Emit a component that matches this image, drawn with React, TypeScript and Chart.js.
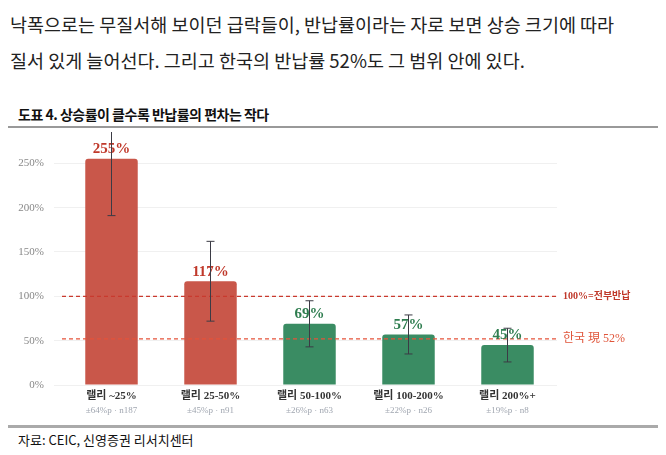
import React, { useEffect, useRef } from "react";
import { Chart, registerables } from "chart.js";
Chart.register(...registerables);

const categories = ["랠리 ~25%", "랠리 25-50%", "랠리 50-100%", "랠리 100-200%", "랠리 200%+"];
const values = [255, 117, 69, 57, 45];
const errors = [64, 45, 26, 22, 19];
const counts = [187, 91, 63, 26, 8];
const yTicks = [0, 50, 100, 150, 200, 250];
const refLines = [100, 52];

const RED = "#c9574a", GREEN = "#3a8c63";
const isRed = (v: number) => v >= 100;

export default function App() {
  const ref = useRef<HTMLCanvasElement>(null);
  useEffect(() => {
    const overlay = {
      id: "overlay",
      afterDatasetsDraw(chart: any) {
        const { ctx, chartArea, scales } = chart;
        const x = scales.x, y = scales.y;
        ctx.save();
        ctx.setLineDash([4, 3]);
        ctx.lineWidth = 1.3;
        ctx.strokeStyle = "#c93a2e";
        ctx.beginPath(); ctx.moveTo(chartArea.left, y.getPixelForValue(refLines[0])); ctx.lineTo(chartArea.right, y.getPixelForValue(refLines[0])); ctx.stroke();
        ctx.strokeStyle = "#e5533a";
        ctx.beginPath(); ctx.moveTo(chartArea.left, y.getPixelForValue(refLines[1])); ctx.lineTo(chartArea.right, y.getPixelForValue(refLines[1])); ctx.stroke();
        ctx.setLineDash([]);
        ctx.textBaseline = "middle"; ctx.textAlign = "left";
        ctx.fillStyle = "#c0392b";
        ctx.font = "bold 10px 'Liberation Serif', 'Noto Sans CJK KR'";
        ctx.fillText("100%=전부반납", chartArea.right + 6, y.getPixelForValue(refLines[0]));
        ctx.fillStyle = "#e0553a";
        ctx.font = "12px 'Liberation Serif', 'Noto Sans CJK KR'";
        ctx.fillText("한국 現 52%", chartArea.right + 6, y.getPixelForValue(refLines[1]));
        values.forEach((v, i) => {
          const cx = x.getPixelForValue(i);
          ctx.fillStyle = isRed(v) ? "#c0392b" : "#2e7d4f";
          ctx.font = "bold 15px 'Liberation Serif'";
          ctx.textAlign = "center"; ctx.textBaseline = "bottom";
          ctx.fillText(v + "%", cx, y.getPixelForValue(v) - 2);
          const topRaw = y.getPixelForValue(v + errors[i]);
          const top = Math.max(topRaw, chartArea.top - 18);
          const bot = y.getPixelForValue(v - errors[i]);
          ctx.strokeStyle = "#3b3b45"; ctx.lineWidth = 1;
          ctx.beginPath();
          ctx.moveTo(cx, top); ctx.lineTo(cx, bot);
          ctx.moveTo(cx - 4, bot); ctx.lineTo(cx + 4, bot);
          if (topRaw >= chartArea.top - 18) { ctx.moveTo(cx - 4, top); ctx.lineTo(cx + 4, top); }
          ctx.stroke();
          ctx.textBaseline = "top";
          ctx.fillStyle = "#333";
          ctx.font = "bold 11px 'Liberation Serif', 'Noto Sans CJK KR'";
          ctx.fillText(categories[i], cx, chartArea.bottom + 6);
          ctx.fillStyle = "#a0a6b0";
          ctx.font = "9px 'Liberation Serif'";
          ctx.fillText(`±${errors[i]}%p · n${counts[i]}`, cx, chartArea.bottom + 21);
        });
        ctx.restore();
      },
    };
    const chart = new Chart(ref.current!, {
      type: "bar",
      data: {
        labels: categories,
        datasets: [{
          data: values,
          backgroundColor: values.map((v) => (isRed(v) ? RED : GREEN)),
          borderRadius: 3,
          barPercentage: 0.53,
          categoryPercentage: 1,
        }],
      },
      options: {
        animation: false,
        responsive: false,
        layout: { padding: { left: 0, right: 109, top: 20, bottom: 40 } },
        plugins: { legend: { display: false }, tooltip: { enabled: false } },
        scales: {
          x: {
            ticks: { display: false }, grid: { display: false }, border: { display: false },
            afterFit: (s: any) => { s.height = 0; },
          },
          y: {
            min: 0, max: 265,
            afterBuildTicks: (s: any) => { s.ticks = yTicks.map((v) => ({ value: v })); },
            afterFit: (s: any) => { s.width = 62; },
            ticks: { color: "#888", font: { family: "'Liberation Serif'", size: 11 }, callback: (v: any) => v + "%", padding: 10 },
            grid: { color: "#f0f0f0" },
            border: { display: false },
          },
        },
      },
      plugins: [overlay],
    });
    return () => chart.destroy();
  }, []);
  const kr = "'Noto Sans CJK KR', sans-serif";
  return (
    <div style={{ position: "absolute", left: 0, top: 0, width: 666, height: 455, background: "#fff", fontFamily: kr }}>
      <div style={{ position: "absolute", left: 10, top: 6, fontSize: 18.5, lineHeight: "36px", color: "#222" }}>
        낙폭으로는 무질서해 보이던 급락들이, 반납률이라는 자로 보면 상승 크기에 따라<br />질서 있게 늘어선다. 그리고 한국의 반납률 52%도 그 범위 안에 있다.
      </div>
      <div style={{ position: "absolute", left: 18, top: 104, fontSize: 14, fontWeight: 700, color: "#111", letterSpacing: -0.5 }}>도표 4. 상승률이 클수록 반납률의 편차는 작다</div>
      <div style={{ position: "absolute", left: 8, top: 126, width: 650, height: 2, background: "#999" }} />
      <canvas ref={ref} width={666} height={295} style={{ position: "absolute", left: 0, top: 130 }} />
      <div style={{ position: "absolute", left: 8, top: 425, width: 650, height: 3, background: "#aaa" }} />
      <div style={{ position: "absolute", left: 18, top: 430, fontSize: 13, color: "#111" }}>자료: CEIC, 신영증권 리서치센터</div>
    </div>
  );
}
